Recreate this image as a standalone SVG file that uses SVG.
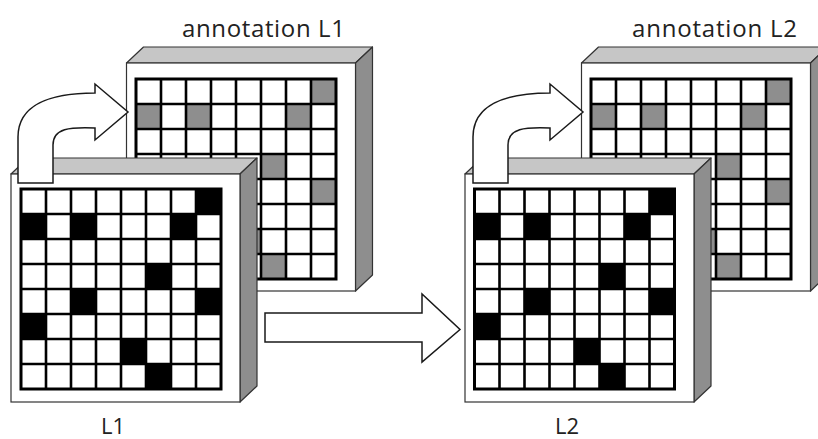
<svg xmlns="http://www.w3.org/2000/svg" xmlns:xlink="http://www.w3.org/1999/xlink" width="818" height="439" viewBox="0 0 818 439">
  <style>
    .face { fill: #ffffff; stroke: #333333; stroke-width: 1.2; }
    .top { fill: #c6c6c6; stroke: #333333; stroke-width: 1.2; stroke-linejoin: round; }
    .side { fill: #8e8e8e; stroke: #333333; stroke-width: 1.2; stroke-linejoin: round; }
    .gridbg { fill: #ffffff; }
    .gridlines { fill: none; stroke: #000000; stroke-width: 2.6; }
    .gridborder { fill: none; stroke: #000000; stroke-width: 3; }
    .arrow { fill: #ffffff; stroke: #1a1a1a; stroke-width: 1.5; stroke-linejoin: miter; }
    .label { font-family: "Open Sans", "DejaVu Sans", sans-serif; font-size: 24px; fill: #222222; }
    .small { font-size: 22px; }
  </style>
  <defs>
    <!-- box with bevelled top and right faces; front face is 229 x 228 -->
    <g id="frame">
      <polygon class="top" points="0,0 17,-16 246,-16 229,0"/>
      <polygon class="side" points="229,0 246,-16 246,212 229,228"/>
      <rect class="face" x="0" y="0" width="229" height="228"/>
    </g>
    <!-- 8 x 8 grid, 25 px cells -->
    <g id="grid">
      <path class="gridlines" d="M25,0V200M50,0V200M75,0V200M100,0V200M125,0V200M150,0V200M175,0V200M0,25H200M0,50H200M0,75H200M0,100H200M0,125H200M0,150H200M0,175H200"/>
      <rect class="gridborder" x="0" y="0" width="200" height="200"/>
    </g>
    <!-- marked cells (fill is set by the referencing element) -->
    <g id="marks">
      <rect x="175" y="0" width="25" height="25"/>
      <rect x="0" y="25" width="25" height="25"/>
      <rect x="50" y="25" width="25" height="25"/>
      <rect x="150" y="25" width="25" height="25"/>
      <rect x="125" y="75" width="25" height="25"/>
      <rect x="50" y="100" width="25" height="25"/>
      <rect x="175" y="100" width="25" height="25"/>
      <rect x="0" y="125" width="25" height="25"/>
      <rect x="100" y="150" width="25" height="25"/>
      <rect x="125" y="175" width="25" height="25"/>
    </g>
  </defs>

  <!-- annotation layer for L1 (behind) -->
  <g id="annotation-l1">
    <use xlink:href="#frame" transform="translate(126.5,63)"/>
    <g transform="translate(136,79)">
      <rect class="gridbg" x="0" y="0" width="200" height="200"/>
      <use xlink:href="#marks" fill="#8e8e8e"/>
      <use xlink:href="#grid"/>
    </g>
    <text class="label" x="182" y="37" textLength="163" lengthAdjust="spacing">annotation L1</text>
  </g>

  <!-- annotation layer for L2 (behind) -->
  <g id="annotation-l2">
    <use xlink:href="#frame" transform="translate(581.5,63)"/>
    <g transform="translate(591,79)">
      <rect class="gridbg" x="0" y="0" width="200" height="200"/>
      <use xlink:href="#marks" fill="#8e8e8e"/>
      <use xlink:href="#grid"/>
    </g>
    <text class="label" x="632" y="37" textLength="165" lengthAdjust="spacing">annotation L2</text>
  </g>

  <!-- layer L1 -->
  <g id="l1">
    <use xlink:href="#frame" transform="translate(11,174)"/>
    <g transform="translate(21,189)">
      <rect class="gridbg" x="0" y="0" width="200" height="200"/>
      <use xlink:href="#marks" fill="#000000"/>
      <use xlink:href="#grid"/>
    </g>
    <text class="label small" x="101" y="434">L1</text>
  </g>

  <!-- layer L2 -->
  <g id="l2">
    <use xlink:href="#frame" transform="translate(465,174)"/>
    <g transform="translate(474.5,189)">
      <rect class="gridbg" x="0" y="0" width="200" height="200"/>
      <use xlink:href="#marks" fill="#000000"/>
      <use xlink:href="#grid"/>
    </g>
    <text class="label small" x="555" y="434">L2</text>
  </g>

  <!-- connectors: block arrows -->
  <g id="connectors">
    <path id="curve-l1" class="arrow" d="M18,183 L18,137 C18,105 50,93 95,93 L95,84 L128,112 L95,140 L95,128 C70,127 53,128 53,145 L53,183 Z"/>
    <path id="curve-l2" class="arrow" transform="translate(455,0)" d="M18,183 L18,137 C18,105 50,93 95,93 L95,84 L128,112 L95,140 L95,128 C70,127 53,128 53,145 L53,183 Z"/>
    <path id="l1-to-l2" class="arrow" d="M265,313 L422,313 L422,294 L460,329.5 L422,362 L422,342 L265,342 Z"/>
  </g>
</svg>
